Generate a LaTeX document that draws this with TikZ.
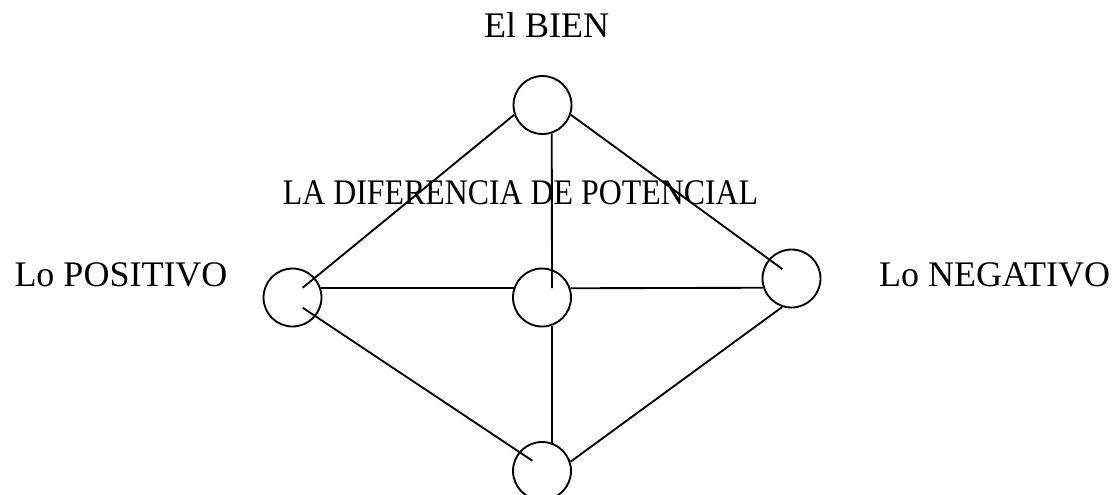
\documentclass[tikz,border=0pt]{standalone}
\usepackage{fontspec}
\setmainfont{Liberation Serif}
\usepackage{graphicx}
\begin{document}
\begin{tikzpicture}[x=0.75pt,y=-0.75pt,
  ring/.style={draw,circle,line width=1.4pt,minimum size=43.5pt,inner sep=0pt},
  link/.style={line width=1.4pt},
  label/.style={anchor=base,inner sep=0pt,font=\fontsize{27pt}{32pt}\selectfont}]
\useasboundingbox (0,0) rectangle (1116,494);
% circles
\node[ring] (T) at (542.5,105) {};
\node[ring] (L) at (292.5,297.5) {};
\node[ring] (C) at (542,297.5) {};
\node[ring] (R) at (791.5,278.5) {};
\node[ring] (B) at (542,471) {};
% inner end points
\coordinate (Lin) at (302.7,287.7);
\coordinate (Llo) at (302.7,307.7);
\coordinate (Cin) at (552,288);
\coordinate (Rin) at (782.3,269);
\coordinate (Bin) at (532.3,460.7);
% connectors
\draw[link] (T.199) -- (Lin);
\draw[link] (T.341) -- (Rin);
\draw[link] (T.288) -- (Cin);
\draw[link] (L.18) -- (C.162);
\draw[link] (C.18) -- (R.198);
\draw[link] (C.289) -- (B.71);
\draw[link] (Llo) -- (Bin);
\draw[link] (R.252) -- (B.18);
% labels
\node[label] (tbien) at (546.5,37) {El BIEN};
\node[label] (tdif) at (520.5,204) {\scalebox{0.885}[1]{LA DIFERENCIA DE POTENCIAL}};
\node[label] (tpos) at (121,286.7) {Lo POSITIVO};
\node[label] (tneg) at (994.5,286) {Lo NEGATIVO};
\end{tikzpicture}
\end{document}
